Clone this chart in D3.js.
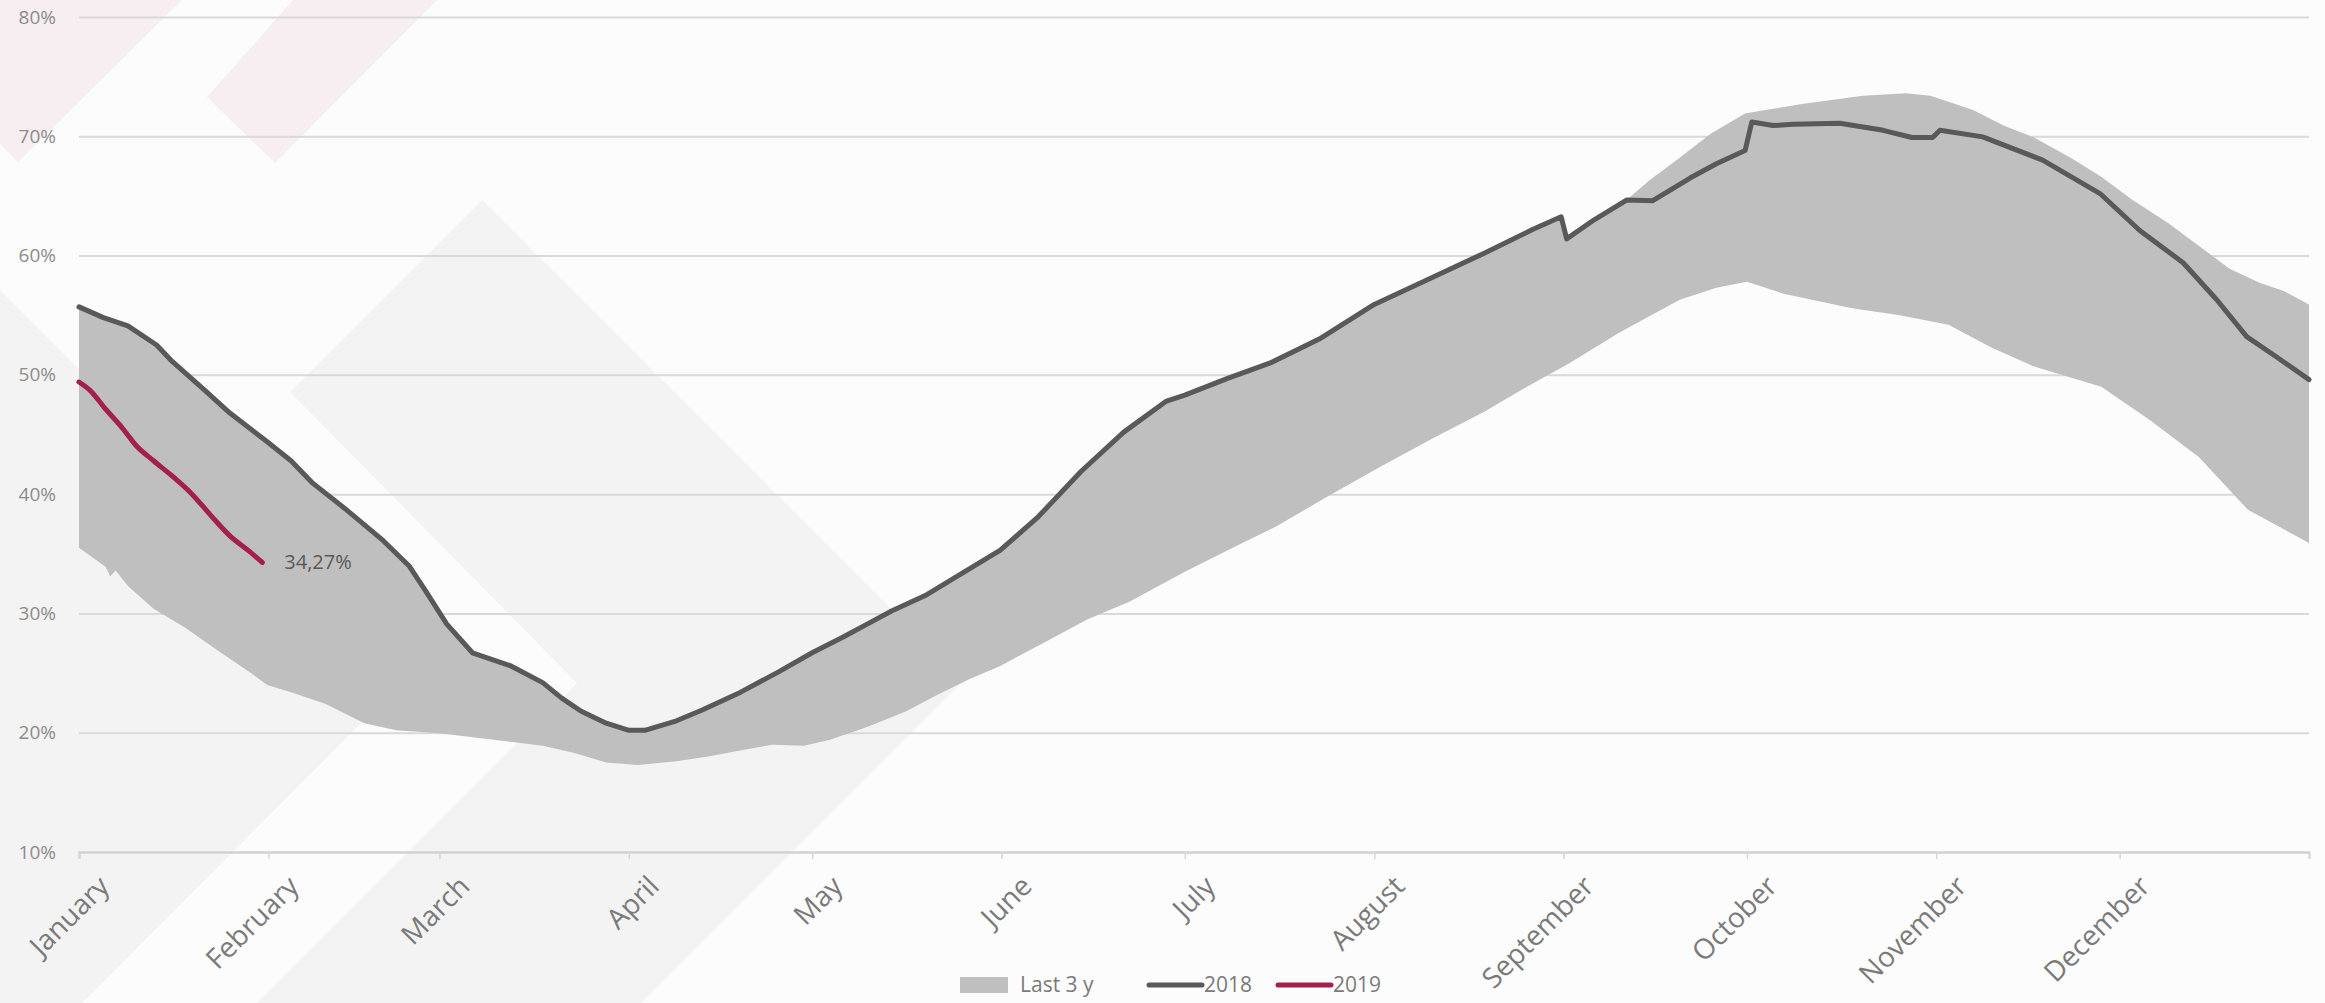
<!DOCTYPE html>
<html>
<head>
<meta charset="utf-8">
<script src="https://cdn.jsdelivr.net/npm/d3@7"></script>
<style>
  html, body { margin: 0; padding: 0; background: #fcfcfc; }
  svg { display: block; }
  text { font-family: "Open Sans", "DejaVu Sans", sans-serif; }
</style>
</head>
<body>
<script>
// canvas size
var w = 2325;
var h = 1003;

// month ticks (day of year at which each month starts)
var monthNames = ["January", "February", "March", "April", "May", "June",
  "July", "August", "September", "October", "November", "December"];
var monthDays = [0, 31, 59, 90, 120, 151, 181, 212, 243, 273, 304, 334];

// y ticks (%)
var yTicks = [10, 20, 30, 40, 50, 60, 70, 80];

// 2018 line : day of year / value (%)
var days2018 = [0, 4, 8, 12.7, 15.3, 20.6, 24.7, 30.8, 34.7, 38.3, 43.5, 49.8, 54, 56.6,
  60.2, 64.4, 70.7, 75.9, 79, 82.2, 86.3, 90, 92.6, 97.8, 102, 108.3, 114.5, 120, 125,
  129, 133, 138.5, 143.7, 150.8, 157, 164, 171, 178, 181, 188, 195, 203, 212, 220, 230,
  238, 242.6, 243.5, 248, 253.3, 257.6, 263.7, 268, 272.7, 273.8, 277.3, 280.6, 288.2,
  295.3, 300, 303.4, 304.6, 311.6, 321.4, 330.8, 337.3, 344.4, 349.9, 354.8, 359.7, 365];
var values2018 = [55.7, 54.8, 54.1, 52.5, 51.1, 48.7, 46.8, 44.4, 42.8, 40.9, 38.8, 36.1, 34, 32,
  29.1, 26.7, 25.6, 24.2, 22.9, 21.8, 20.8, 20.2, 20.2, 21, 21.9, 23.4, 25.1, 26.7, 28,
  29.1, 30.2, 31.5, 33.1, 35.3, 38.1, 41.9, 45.2, 47.8, 48.3, 49.7, 51, 53, 55.9, 57.8, 60.2,
  62.2, 63.25, 61.4, 63, 64.65, 64.6, 66.5, 67.7, 68.8, 71.2, 70.9, 71, 71.1,
  70.5, 69.9, 69.9, 70.5, 69.95, 68, 65.2, 62.1, 59.4, 56.3, 53.2, 51.5, 49.6];

// 2019 line
var days2019 = [0, 1.8, 4.4, 7, 9.3, 12.2, 15.3, 18.5, 21.6, 24.7, 27.9, 30];
var values2019 = [49.4, 48.7, 47.1, 45.6, 44.1, 42.8, 41.5, 40, 38.2, 36.5, 35.2, 34.27];
var lastLabel = "34,27%";

// last 3 years band: upper edge where it rises above the 2018 line
var bandTopDays = [257, 262, 267, 272.7, 276, 282, 292, 299, 303, 306, 310, 315, 320,
  326, 331, 336, 342, 347, 352, 357, 361, 365];
var bandTopValues = [66.3, 68.2, 70.2, 71.9, 72.2, 72.7, 73.4, 73.6, 73.4, 72.9, 72.2, 70.9, 69.9,
  68.2, 66.6, 64.7, 62.7, 60.8, 58.9, 57.7, 57, 55.9];
// band lower edge
var bandLowDays = [0, 4.4, 5.1, 6, 8, 12.2, 17.4, 22.7, 27.9, 30.8, 35.2, 40.4, 46.7, 51.9,
  59, 66.5, 75.9, 81.1, 86.3, 91.5, 97.8, 103, 108.2, 113.5, 118.7, 122.9, 129.1, 135.4,
  140.6, 145.8, 150.8, 157, 165, 172, 181, 190, 196, 205, 213, 222, 230, 237, 244, 252,
  262, 268, 273, 279, 290, 298, 306, 313, 320, 331, 339, 347, 355, 360, 365];
var bandLowValues = [35.5, 33.9, 33.1, 33.6, 32.3, 30.4, 28.8, 26.9, 25.1, 24, 23.3, 22.4, 20.8, 20.2,
  19.95, 19.5, 18.9, 18.3, 17.5, 17.3, 17.6, 18, 18.5, 19, 18.9, 19.4, 20.5, 21.8,
  23.2, 24.5, 25.6, 27.3, 29.5, 31, 33.5, 35.8, 37.3, 40, 42.3, 44.8, 46.9, 49, 51, 53.5,
  56.3, 57.3, 57.8, 56.8, 55.6, 55, 54.2, 52.3, 50.7, 49, 46.2, 43.1, 38.7, 37.3, 35.9];

// legend entries
var legendLabels = ["Last 3 y", "2018", "2019"];

var colBand = "#bfbfbf";
var col2018 = "#595959";
var col2019 = "#a3204e";

var svg = d3.select("body").append("svg").attr("width", w).attr("height", h);

// decorative background shapes
var deco = svg.append("g");
var pinkShapes = [
  [[0, 0], [182, 0], [18, 162], [0, 144]],
  [[293, 0], [437, 0], [275, 163], [207, 97]]
];
var grayShapes = [
  [[482, 200], [963, 681], [641, 1003], [257, 1003], [577, 683], [290, 392]],
  [[0, 290], [397, 687], [82, 1003], [0, 1003]]
];
deco.selectAll(".pink").data(pinkShapes).enter().append("path")
  .attr("d", function (d) { return "M" + d.join("L") + "Z"; })
  .attr("fill", "#f6eef1");
deco.selectAll(".gray").data(grayShapes).enter().append("path")
  .attr("d", function (d) { return "M" + d.join("L") + "Z"; })
  .attr("fill", "#f3f3f3");

// scales
var x = d3.scaleLinear().domain([0, 365]).range([79, 2309]);
var y = d3.scaleLinear().domain([10, 80]).range([852, 17]);

// grid + y labels
var yAxis = d3.axisLeft(y)
  .tickValues(yTicks)
  .tickSize(-(x.range()[1] - x.range()[0]))
  .tickPadding(23)
  .tickFormat(function (d) { return d + "%"; });
var gy = svg.append("g").attr("transform", "translate(" + x.range()[0] + ",0)").call(yAxis);
gy.select(".domain").remove();
gy.selectAll("line").attr("stroke", "#d9d9d9").attr("stroke-width", 2);
gy.selectAll("text")
  .attr("fill", "#8c8c8c")
  .style("font-size", "19px")
  .style("font-family", "'Open Sans', sans-serif");

// x axis ticks
var xAxis = d3.axisBottom(x).tickValues(monthDays).tickSize(7).tickFormat("");
var gx = svg.append("g").attr("transform", "translate(0," + y(10) + ")").call(xAxis);
gx.select(".domain").attr("stroke", "#d0d0d0").attr("stroke-width", 2);
gx.selectAll("line").attr("stroke", "#d6d6d6").attr("stroke-width", 1.5);

// month labels rotated
svg.append("g").selectAll("text")
  .data(monthDays)
  .enter()
  .append("text")
  .attr("transform", function (d) {
    return "translate(" + (x(d) + 32) + "," + (y(10) + 36) + ") rotate(-45)";
  })
  .attr("text-anchor", "end")
  .attr("fill", "#7a7a7a")
  .style("font-size", "28px")
  .text(function (d, i) { return monthNames[i]; });

// band
var pts2018 = days2018.map(function (d, i) { return [d, values2018[i]]; });
var bandTop = pts2018.filter(function (p) { return p[0] <= 253.3; })
  .concat(bandTopDays.map(function (d, i) { return [d, bandTopValues[i]]; }));
var bandLow = bandLowDays.map(function (d, i) { return [d, bandLowValues[i]]; }).reverse();
var lineGen = d3.line()
  .x(function (d) { return x(d[0]); })
  .y(function (d) { return y(d[1]); });
var smoothGen = d3.line()
  .curve(d3.curveMonotoneX)
  .x(function (d) { return x(d[0]); })
  .y(function (d) { return y(d[1]); });

svg.append("path")
  .attr("d", lineGen(bandTop.concat(bandLow)) + "Z")
  .attr("fill", colBand);

// 2018 line (straight segments, keeps the sharp steps)
svg.append("path")
  .attr("d", lineGen(pts2018))
  .attr("fill", "none")
  .attr("stroke", col2018)
  .attr("stroke-width", 5)
  .attr("stroke-linejoin", "round")
  .attr("stroke-linecap", "round");

// 2019 line
var pts2019 = days2019.map(function (d, i) { return [d, values2019[i]]; });
svg.append("path")
  .attr("d", smoothGen(pts2019))
  .attr("fill", "none")
  .attr("stroke", col2019)
  .attr("stroke-width", 5)
  .attr("stroke-linejoin", "round")
  .attr("stroke-linecap", "round");

// label at last 2019 point
var lastPt = pts2019[pts2019.length - 1];
svg.append("text")
  .attr("x", x(lastPt[0]) + 22)
  .attr("y", y(lastPt[1]))
  .attr("dy", "0.35em")
  .attr("fill", "#595959")
  .style("font-size", "20px")
  .text(lastLabel);

// legend
var legend = svg.append("g").attr("transform", "translate(960,985)");
var legendX = [0, 189, 318];
legendLabels.forEach(function (lab, i) {
  var g = legend.append("g").attr("transform", "translate(" + legendX[i] + ",0)");
  if (i === 0) {
    g.append("rect").attr("x", 0).attr("y", -8).attr("width", 48).attr("height", 16)
      .attr("fill", colBand);
    g.append("text").attr("x", 60).attr("dy", "0.35em").attr("fill", "#7a7a7a")
      .style("font-size", "21px").text(lab);
  } else {
    g.append("line").attr("x1", 0).attr("x2", 53).attr("y1", 0).attr("y2", 0)
      .attr("stroke", i === 1 ? col2018 : col2019).attr("stroke-width", 5)
      .attr("stroke-linecap", "round");
    g.append("text").attr("x", 55).attr("dy", "0.35em").attr("fill", "#7a7a7a")
      .style("font-size", "21px").text(lab);
  }
});
</script>
</body>
</html>
